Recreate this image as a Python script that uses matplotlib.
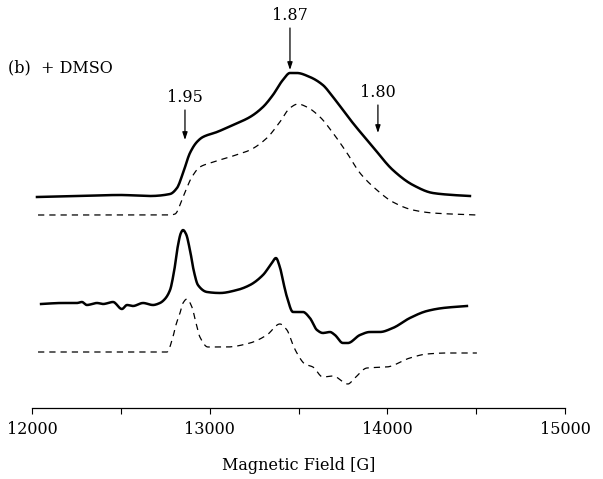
import matplotlib
matplotlib.use("Agg")
import matplotlib.pyplot as plt
import numpy as np

# Field (G) and intensities (arbitrary units)
up_solid_x = [12028, 12270, 12495, 12664, 12777, 12816, 12850, 12889, 12928, 12962, 13041, 13131,
              13227, 13300, 13356, 13412, 13452, 13491, 13564, 13637, 13694, 13806, 13919, 14031,
              14144, 14256, 14369, 14465]
up_solid_y = [211, 212, 213, 212, 214, 220, 235, 255, 266, 271, 276, 283,
              291, 301, 313, 328, 335, 335, 331, 323, 311, 285, 261, 238,
              223, 215, 213, 212]

up_dash_x = [12034, 12777, 12805, 12850, 12900, 12945, 13002, 13131, 13227, 13322, 13395, 13452,
             13497, 13547, 13621, 13694, 13773, 13846, 13941, 14031, 14144, 14256, 14504]
up_dash_y = [193, 193, 194, 211, 231, 241, 245, 252, 258, 270, 286, 300,
             304, 301, 291, 275, 255, 235, 218, 206, 198, 195, 193]

lo_solid_x = [12051, 12169, 12253, 12281, 12309, 12366, 12400, 12456, 12506, 12535, 12568, 12625,
              12681, 12720, 12748, 12777, 12799, 12822, 12838, 12850, 12867, 12889, 12912, 12934,
              12985, 13058, 13154, 13227, 13300, 13350, 13373, 13395, 13418, 13435, 13469, 13525,
              13564, 13604, 13637, 13677, 13705, 13750, 13778, 13846, 13902, 13958, 14031, 14127,
              14223, 14313, 14448]
lo_solid_y = [104, 105, 105, 106, 103, 105, 104, 106, 99, 103, 102, 105,
              103, 105, 109, 118, 136, 163, 175, 178, 174, 158, 136, 123,
              116, 115, 118, 123, 133, 145, 150, 141, 123, 111, 96, 96,
              90, 78, 75, 76, 73, 65, 65, 73, 76, 76, 80, 90,
              97, 100, 102]

lo_dash_x = [12034, 12760, 12793, 12810, 12833, 12850, 12872, 12900, 12923, 12945, 12990, 13097,
             13227, 13322, 13395, 13435, 13469, 13491, 13536, 13581, 13637, 13694, 13778, 13817,
             13885, 13997, 14127, 14223, 14335, 14504]
lo_dash_y = [56, 56, 71, 83, 95, 105, 109, 101, 85, 71, 61, 61,
             65, 73, 84, 78, 63, 55, 44, 41, 31, 32, 24, 30,
             40, 41, 50, 54, 55, 55]

x_ticks = [12000, 13000, 14000, 15000]
x_tick_labels = ["12000", "13000", "14000", "15000"]

# g-value markers: (label, field, arrow tail, arrow head)
g_labels = ["1.95", "1.87", "1.80"]
g_fields = [12861, 13452, 13947]
g_tail = [298, 380, 303]
g_head = [268, 338, 275]

plt.rcParams['font.family'] = ['DejaVu Serif']

fig = plt.figure(figsize=(6.03, 4.79), dpi=100)
ax = fig.add_axes([32/603, 1 - 408/479, 533/603, 408/479])

def smooth(xs, ys, n=600):
    xs = np.asarray(xs, float); ys = np.asarray(ys, float)
    xx = np.linspace(xs[0], xs[-1], n)
    h = np.diff(xs); d = np.diff(ys) / h
    m = np.zeros_like(ys)
    m[0], m[-1] = d[0], d[-1]
    for i in range(1, len(xs) - 1):
        if d[i-1] * d[i] <= 0:
            m[i] = 0
        else:
            w1 = 2*h[i] + h[i-1]; w2 = h[i] + 2*h[i-1]
            m[i] = (w1 + w2) / (w1/d[i-1] + w2/d[i])
    idx = np.clip(np.searchsorted(xs, xx) - 1, 0, len(xs) - 2)
    t = (xx - xs[idx]) / h[idx]
    h00 = 2*t**3 - 3*t**2 + 1; h10 = t**3 - 2*t**2 + t
    h01 = -2*t**3 + 3*t**2; h11 = t**3 - t**2
    yy = h00*ys[idx] + h10*h[idx]*m[idx] + h01*ys[idx+1] + h11*h[idx]*m[idx+1]
    return xx, yy

ax.plot(*smooth(up_solid_x, up_solid_y), color='black', lw=1.8)
ax.plot(*smooth(up_dash_x, up_dash_y), color='black', lw=0.9, ls=(0, (5, 4)))
ax.plot(*smooth(lo_solid_x, lo_solid_y), color='black', lw=1.8)
ax.plot(*smooth(lo_dash_x, lo_dash_y), color='black', lw=0.9, ls=(0, (5, 4)))

for lab, gx, t, h in zip(g_labels, g_fields, g_tail, g_head):
    ax.annotate("", xy=(gx, h), xytext=(gx, t),
                arrowprops=dict(arrowstyle='-|>,head_width=0.15,head_length=0.45',
                                color='black', lw=0.9, shrinkA=0, shrinkB=0))
    ax.text(gx, t + 4, lab, ha='center', va='bottom', fontsize=11.5)

ax.set_xlim(12000, 15000)
ax.set_ylim(0, 408)
ax.set_xticks(x_ticks)
ax.set_xticklabels(x_tick_labels, fontsize=11.5)
ax.set_xticks(np.arange(12500, 15000, 1000), minor=True)
ax.tick_params(axis='x', which='both', direction='out', length=4, width=0.8, pad=5)
ax.set_yticks([])
for s in ['left', 'right', 'top']:
    ax.spines[s].set_visible(False)
ax.spines['bottom'].set_linewidth(0.9)
ax.patch.set_alpha(0)

ax.set_xlabel("Magnetic Field [G]", fontsize=11.5, labelpad=14)
fig.text(8/603, 1 - 68/479, "(b)  + DMSO", fontsize=11.5, va='center', ha='left')

fig.savefig("out.png", dpi=100)
